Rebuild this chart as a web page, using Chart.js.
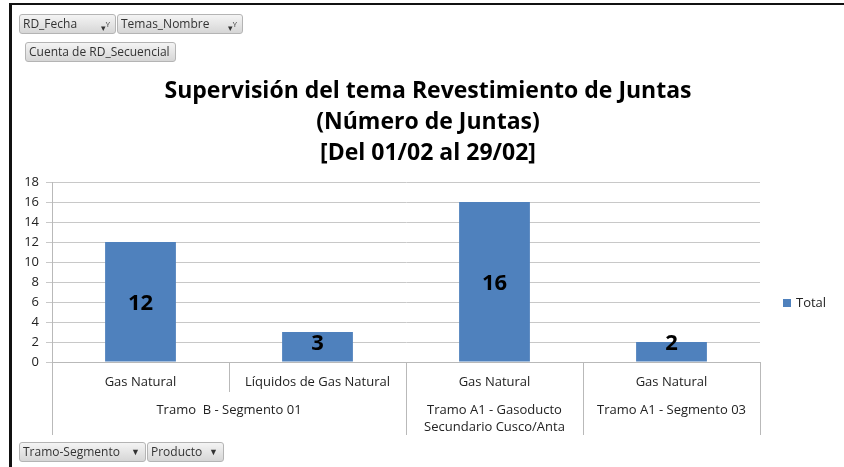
<!DOCTYPE html>
<html>
<head>
<meta charset="utf-8">
<script src="https://cdn.jsdelivr.net/npm/chart.js@4"></script>
<style>
  html, body { margin: 0; padding: 0; background: #fff; }
  body { width: 844px; height: 467px; position: relative; overflow: hidden; font-family: "Open Sans", sans-serif; }
  #marco { position: absolute; left: 9px; top: 3px; width: 840px; height: 470px; border-left: 3px solid #111; border-top: 2px solid #111; }
  #caja { position: absolute; left: 12px; top: 5px; width: 832px; height: 462px; }
  .btn {
    position: absolute; height: 20px; box-sizing: border-box;
    border: 1px solid #b4b4b4; border-radius: 3px;
    background: linear-gradient(#f4f4f4, #d6d6d6);
    font-size: 12px; line-height: 18px; color: #333; padding-left: 3px; white-space: nowrap;
  }
  .btn .fl { position: absolute; right: 5px; top: 0; font-size: 9px; color: #333; }
</style>
</head>
<body>
<div id="marco"></div>
<div id="caja"><canvas id="grafico"></canvas></div>

<div class="btn" style="left:19px; top:14px; width:97px;">RD_Fecha<span class="fl">▾<sup>Y</sup></span></div>
<div class="btn" style="left:117px; top:14px; width:126px;">Temas_Nombre<span class="fl">▾<sup>Y</sup></span></div>
<div class="btn" style="left:25px; top:42px; width:151px;">Cuenta de RD_Secuencial</div>
<div class="btn" style="left:19px; top:442px; width:127px;">Tramo-Segmento<span class="fl">▼</span></div>
<div class="btn" style="left:147px; top:442px; width:77px;">Producto<span class="fl">▼</span></div>

<script>
const titulo = ['Supervisión del tema Revestimiento de Juntas', '(Número de Juntas)', '[Del 01/02 al 29/02]'];
const productos = ['Gas Natural', 'Líquidos de Gas Natural', 'Gas Natural', 'Gas Natural'];
const tramos = ['Tramo  B - Segmento 01', 'Tramo  B - Segmento 01', 'Tramo A1 - Gasoducto\nSecundario Cusco/Anta', 'Tramo A1 - Segmento 03'];
const valores = [12, 3, 16, 2];
const serie = 'Total';

const azul = '#4f81bd';
const gris = '#b9b9b9';
const fuente = '"Open Sans", sans-serif';

// etiquetas de datos dentro de las barras
const etiquetas = {
    id: 'etiquetas',
    afterDatasetsDraw(chart) {
        const ctx = chart.ctx;
        const meta = chart.getDatasetMeta(0);
        ctx.save();
        ctx.font = 'bold 22px ' + fuente;
        ctx.fillStyle = '#000';
        ctx.textAlign = 'center';
        ctx.textBaseline = 'middle';
        meta.data.forEach((barra, i) => {
            const y = Math.min((barra.y + barra.base) / 2, barra.base - 20) + 2;
            ctx.fillText(String(valores[i]), barra.x, y);
        });
        ctx.restore();
    }
};

// eje x de dos niveles (producto / tramo) y leyenda
const ejeDoble = {
    id: 'ejeDoble',
    afterDraw(chart) {
        const ctx = chart.ctx;
        const x = chart.scales.x;
        const abajo = chart.chartArea.bottom;
        const paso = x.getPixelForValue(1) - x.getPixelForValue(0);
        ctx.save();
        ctx.font = '13px ' + fuente;
        ctx.fillStyle = '#222';
        ctx.textAlign = 'center';
        ctx.textBaseline = 'middle';
        productos.forEach((p, i) => {
            ctx.fillText(p, x.getPixelForValue(i), abajo + 20);
        });
        // grupos de tramo
        let ini = 0;
        ctx.strokeStyle = gris;
        ctx.lineWidth = 1;
        for (let i = 1; i <= tramos.length; i++) {
            if (i === tramos.length || tramos[i] !== tramos[ini]) {
                const izq = x.getPixelForValue(ini) - paso / 2;
                const der = x.getPixelForValue(i - 1) + paso / 2;
                tramos[ini].split('\n').forEach((linea, k) => {
                    ctx.fillText(linea, (izq + der) / 2, abajo + 48 + k * 17);
                });
                [izq, der].forEach(px => {
                    const xx = Math.round(px) + 0.5;
                    ctx.beginPath();
                    ctx.moveTo(xx, abajo);
                    ctx.lineTo(xx, abajo + 73);
                    ctx.stroke();
                });
                ini = i;
            }
        }
        // leyenda
        ctx.fillStyle = azul;
        ctx.fillRect(771, 294, 8, 8);
        ctx.fillStyle = '#222';
        ctx.font = '13px ' + fuente;
        ctx.textAlign = 'left';
        ctx.fillText(serie, 784, 298);
        ctx.restore();
    }
};

const ctx = document.getElementById('grafico').getContext('2d');
new Chart(ctx, {
    type: 'bar',
    data: {
        labels: productos,
        datasets: [{
            label: serie,
            data: valores,
            backgroundColor: azul,
            barPercentage: 0.4,
            categoryPercentage: 1
        }]
    },
    options: {
        responsive: true,
        maintainAspectRatio: false,
        animation: false,
        layout: { padding: { left: 0, right: 0, top: 0, bottom: 75 } },
        plugins: {
            legend: { display: false },
            tooltip: { enabled: false },
            title: {
                display: true,
                text: titulo,
                color: '#000',
                font: { family: fuente, size: 23, weight: 'bold', lineHeight: '31px' },
                padding: { top: 71, bottom: 13 }
            }
        },
        scales: {
            x: {
                afterFit(scale) { scale.height = 30; },
                ticks: { display: false },
                grid: { drawOnChartArea: false, drawTicks: true, tickLength: 30, color: gris, offset: true },
                border: { color: gris }
            },
            y: {
                min: 0,
                max: 18,
                afterFit(scale) { scale.width = 40; },
                ticks: { stepSize: 2, padding: 7, color: '#222', font: { family: fuente, size: 13 } },
                grid: { color: '#c8c8c8', tickLength: 6 },
                border: { color: gris }
            },
            // espacio reservado a la derecha para la leyenda
            hueco: {
                type: 'linear',
                position: 'right',
                afterFit(scale) { scale.width = 84; },
                ticks: { display: false },
                grid: { display: false },
                border: { display: false }
            }
        }
    },
    plugins: [etiquetas, ejeDoble]
});
</script>
</body>
</html>
